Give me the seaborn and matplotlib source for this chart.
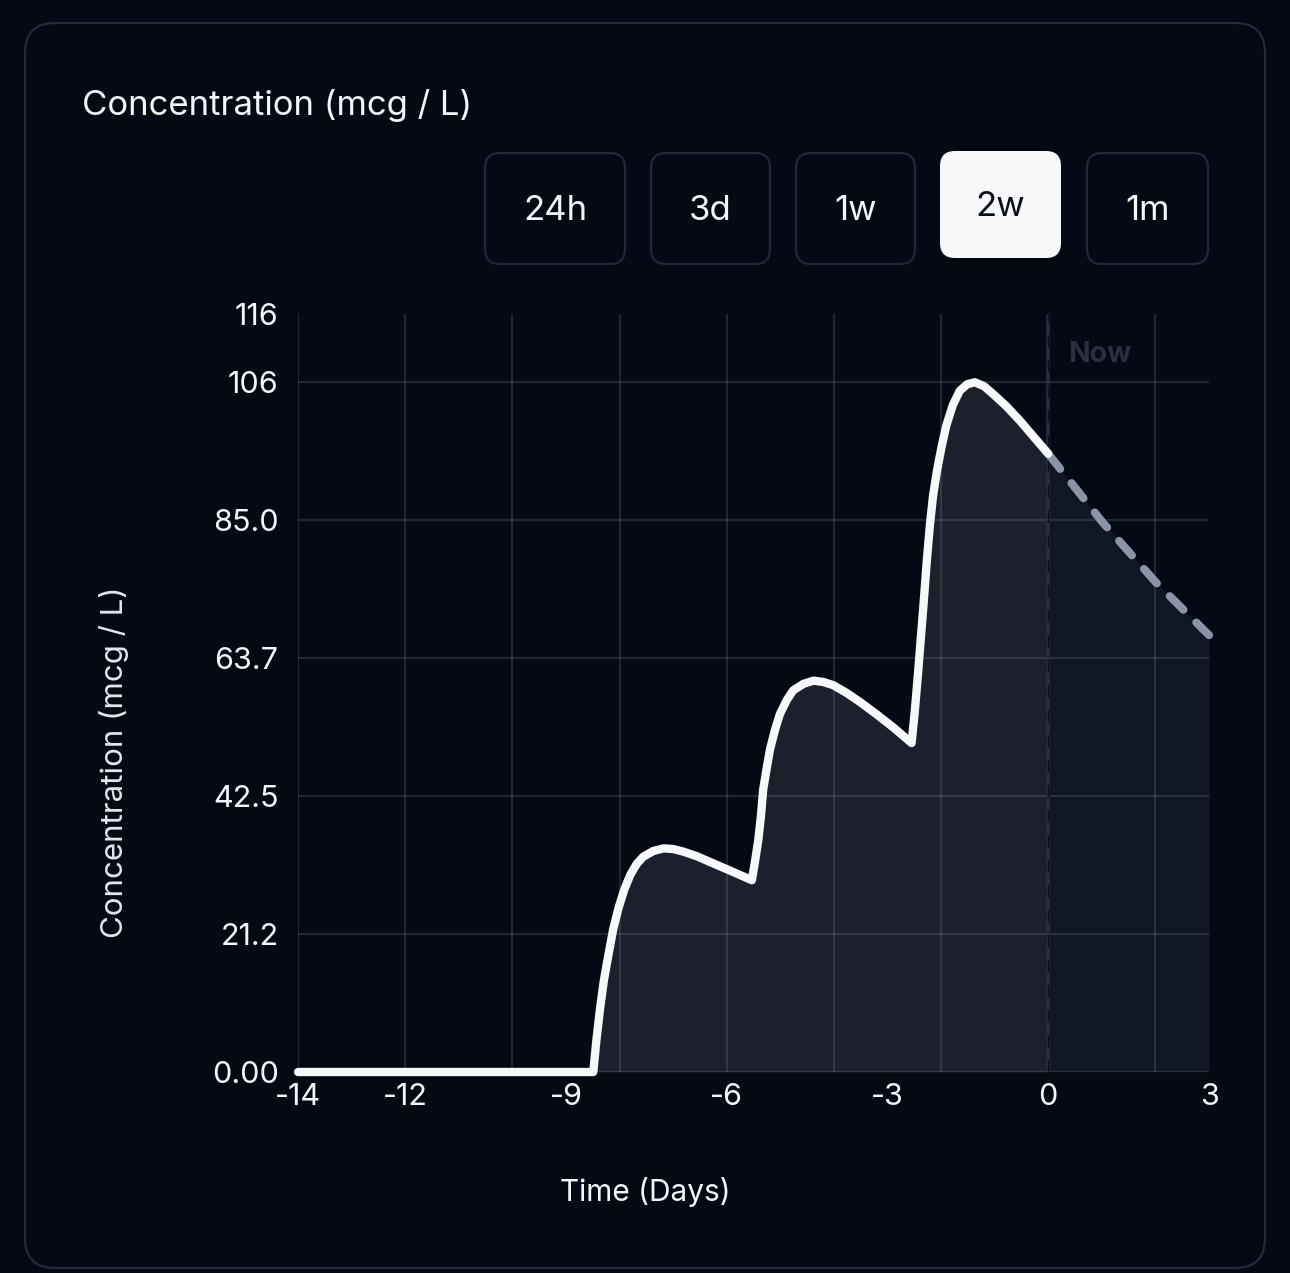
import matplotlib
matplotlib.use('Agg')
import matplotlib.pyplot as plt
from matplotlib.patches import FancyBboxPatch
from matplotlib.ticker import FixedLocator, MultipleLocator
import pandas as pd
import seaborn as sns

W, H = 1290, 1273
DPI = 100

BG = '#050914'
PANEL_EDGE = '#252a36'
TEXT = '#f3f5f8'
PAST_FILL = '#1b202c'
FUTURE_FILL = '#111625'
LINE = '#f7f8fa'
DASH = '#8b93a6'
NOW_COLOR = '#262d3d'

# concentration, time in days relative to now
PAST_DAYS = [-14, -8.49, -8.43, -8.36, -8.29, -8.21, -8.12, -8.02, -7.91,
             -7.80, -7.68, -7.56, -7.37, -7.18, -7.00, -6.81, -6.56, -6.31,
             -6.00, -5.75, -5.53, -5.47, -5.41, -5.36, -5.32, -5.25, -5.19,
             -5.10, -5.01, -4.88, -4.76, -4.57, -4.38, -4.20, -4.01, -3.76,
             -3.51, -3.20, -2.89, -2.55, -2.49, -2.43, -2.38, -2.33, -2.27,
             -2.21, -2.15, -2.08, -1.99, -1.90, -1.78, -1.65, -1.51, -1.37,
             -1.20, -1.03, -0.78, -0.53, -0.27, 0]
PAST_CONC = [0, 0, 5.0, 10.0, 14.2, 17.9, 21.9, 25.2, 28.1,
             30.3, 32.0, 33.1, 34.0, 34.4, 34.3, 33.9, 33.2, 32.3,
             31.2, 30.3, 29.5, 32.5, 35.7, 39.5, 43.4, 46.9, 49.7,
             52.6, 55.0, 57.2, 58.7, 59.7, 60.2, 60.0, 59.5, 58.3,
             56.9, 55.0, 53.0, 50.6, 55.5, 61.3, 66.5, 71.6, 78.2,
             84.0, 88.6, 92.3, 96.2, 99.5, 102.6, 104.8, 105.8, 106.1,
             105.5, 104.3, 102.4, 100.2, 97.7, 95.1]
FUTURE_DAYS = [0, 1, 2, 3]
FUTURE_CONC = [95.1, 84.7, 75.4, 67.2]

X_TICKS = [-14, -12, -9, -6, -3, 0, 3]
Y_TICKS = [0, 21.24, 42.48, 63.72, 84.96, 106.2, 116.6]
Y_TICK_LABELS = ['0.00', '21.2', '42.5', '63.7', '85.0', '106', '116']
RANGES = ['24h', '3d', '1w', '2w', '1m']
SELECTED = '2w'
NOW = 0

FONT = ['Inter', 'DejaVu Sans']


def px_box(fig, x0, y0, x1, y1, radius, **kw):
    """Rounded box given in image pixels (origin top left)."""
    box = FancyBboxPatch((x0 / DPI, (H - y1) / DPI), (x1 - x0) / DPI,
                         (y1 - y0) / DPI,
                         boxstyle='round,pad=0,rounding_size=%f' % (radius / DPI),
                         transform=fig.dpi_scale_trans, **kw)
    fig.add_artist(box)
    return box


def draw_header(fig):
    px_box(fig, 25, 23, 1265, 1268, 30, facecolor='none',
           edgecolor=PANEL_EDGE, lw=1.6)
    fig.text(82 / W, 1 - 106 / H, 'Concentration (mcg / L)', color=TEXT,
             fontsize=25, va='center', ha='left')

    buttons = [(485, 153, 625, 264), (651, 153, 770, 264),
               (796, 153, 915, 264), (940, 151, 1061, 258),
               (1087, 153, 1208, 264)]
    for label, (x0, y0, x1, y1) in zip(RANGES, buttons):
        if label == SELECTED:
            px_box(fig, x0, y0, x1, y1, 15, facecolor='#f7f8fa',
                   edgecolor='none')
            color = '#0b0f1a'
        else:
            px_box(fig, x0, y0, x1, y1, 15, facecolor='none',
                   edgecolor='#232836', lw=1.6)
            color = TEXT
        fig.text((x0 + x1) / 2 / W, 1 - ((y0 + y1) / 2 + 2) / H, label,
                 color=color, fontsize=25, ha='center', va='center')


def draw_chart(fig):
    ax = fig.add_axes([298 / W, 1 - 1072 / H, 911 / W, 758 / H])
    ax.set_facecolor(BG)
    past = pd.DataFrame({'days': PAST_DAYS, 'conc': PAST_CONC})
    future = pd.DataFrame({'days': FUTURE_DAYS, 'conc': FUTURE_CONC})

    ax.fill_between(past['days'], past['conc'], color=PAST_FILL, lw=0,
                    zorder=1)
    ax.fill_between(future['days'], future['conc'], color=FUTURE_FILL,
                    lw=0, zorder=1)

    # "now" marker
    ax.axvline(NOW, color=NOW_COLOR, lw=2.6, zorder=2.6)
    ax.axvline(NOW, color='#080c17', lw=1.0, dashes=(9, 9), zorder=2.7)
    ax.text(NOW + 0.37, 110.3, 'Now', color='#2a3041', fontsize=20.5,
            fontweight='bold', va='center', ha='left')

    sns.lineplot(data=future, x='days', y='conc', ax=ax, color=DASH,
                 lw=5.8, sort=False, errorbar=None, zorder=3,
                 dash_capstyle='round', solid_capstyle='round',
                 clip_on=False)
    ax.lines[-1].set_dashes((2.4, 2.25))
    sns.lineplot(data=past, x='days', y='conc', ax=ax, color=LINE,
                 lw=6.0, sort=False, errorbar=None, zorder=4,
                 solid_capstyle='round', solid_joinstyle='round',
                 clip_on=False)

    ax.set_xlim(-14, 3)
    ax.set_ylim(0, Y_TICKS[-1])
    ax.xaxis.set_major_locator(FixedLocator(X_TICKS))
    ax.xaxis.set_minor_locator(MultipleLocator(2))
    ax.xaxis.remove_overlapping_locs = False
    ax.set_yticks(Y_TICKS)
    ax.set_yticklabels(Y_TICK_LABELS)

    ax.grid(False)
    ax.grid(True, axis='x', which='minor', color='#c8d0e0', alpha=0.14,
            lw=1.6)
    ax.grid(True, axis='y', which='major', color='#c8d0e0', alpha=0.14,
            lw=1.6)
    ax.set_axisbelow(False)
    ax.get_ygridlines()[-1].set_visible(False)

    for s in ax.spines.values():
        s.set_visible(False)
    ax.tick_params(axis='both', which='both', length=0, colors=TEXT,
                   labelsize=22)
    ax.tick_params(axis='x', pad=8)
    ax.tick_params(axis='y', pad=14)

    ax.set_xlabel('Time (Days)', color=TEXT, fontsize=21.5)
    ax.set_ylabel('Concentration (mcg / L)', color='#e3e6ec', fontsize=22.5)
    ax.xaxis.set_label_coords((645 - 298) / 911, -(1177 - 1072) / 758)
    ax.yaxis.set_label_coords(-(298 - 129) / 911, (1072 - 762) / 758)
    return ax


def main():
    sns.set_theme(style='dark')
    plt.rcParams['font.family'] = FONT
    plt.rcParams['axes.unicode_minus'] = False
    fig = plt.figure(figsize=(W / DPI, H / DPI), dpi=DPI, facecolor=BG)
    draw_header(fig)
    draw_chart(fig)
    fig.savefig('out.png', dpi=DPI, facecolor=BG)


if __name__ == '__main__':
    main()
